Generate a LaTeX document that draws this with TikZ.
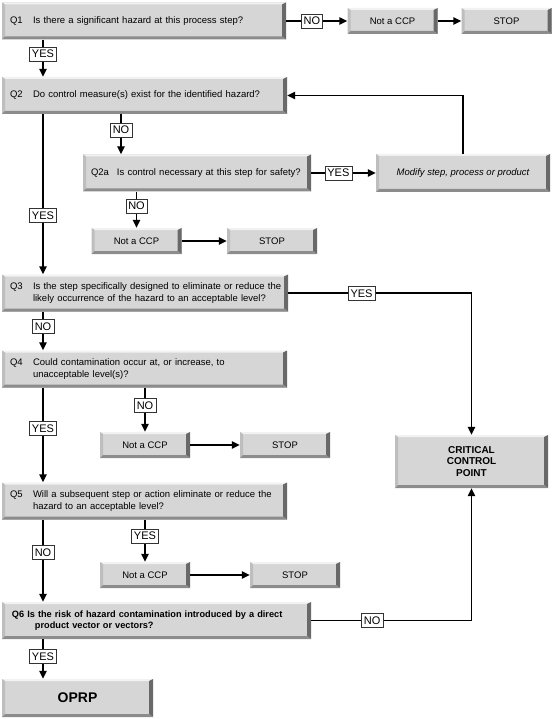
\documentclass[tikz,border=0pt]{standalone}
\usepackage{fontspec}
\setmainfont{Liberation Sans}
\usetikzlibrary{arrows.meta}
\definecolor{boxgray}{RGB}{214,214,214}
\definecolor{bevlight}{RGB}{242,242,242}
\definecolor{bevleft}{RGB}{190,190,190}
\definecolor{bevright}{RGB}{105,105,105}
\definecolor{bevbottom}{RGB}{140,140,140}
\newcommand{\qnum}[2][23pt]{\hspace*{6pt}\makebox[#1][l]{#2}}
\newcommand{\qindent}{\hspace*{29pt}}
\begin{document}
\begin{tikzpicture}[
		x=1pt, y=1pt,
		font=\fontsize{9.5}{11.4}\selectfont,
		base/.style={fill=boxgray, inner sep=0pt, minimum width=90pt, minimum height=26pt,
			path picture={
				\coordinate (bnw) at (path picture bounding box.north west);
				\coordinate (bne) at (path picture bounding box.north east);
				\coordinate (bsw) at (path picture bounding box.south west);
				\coordinate (bse) at (path picture bounding box.south east);
				\fill[bevlight] (bnw) -- (bne) -- ([shift={(-4pt,-2pt)}]bne) -- ([shift={(3pt,-2pt)}]bnw) -- cycle;
				\fill[bevleft] (bnw) -- ([shift={(3pt,-2pt)}]bnw) -- ([shift={(3pt,3pt)}]bsw) -- (bsw) -- cycle;
				\fill[bevright] (bne) -- (bse) -- ([shift={(-4pt,3pt)}]bse) -- ([shift={(-4pt,-2pt)}]bne) -- cycle;
				\fill[bevbottom] (bsw) -- (bse) -- ([shift={(-4pt,3pt)}]bse) -- ([shift={(3pt,3pt)}]bsw) -- cycle;
			}},
		qbox/.style={base, minimum height=37pt, inner xsep=2pt, align=left, text width=#1},
		lbl/.style={draw=black!80, fill=white, line width=0.4pt, font=\fontsize{11}{13}\selectfont,
			inner xsep=2.5pt, inner ysep=3pt, text height=8pt, text depth=0pt},
		link/.style={draw, line width=1.4pt, -{Triangle[length=8pt, width=7.5pt]}}
	]

	\useasboundingbox (0pt, 0pt) rectangle (553pt, -719pt);

	\coordinate (colA) at (43pt, 0pt);
	\coordinate (colB) at (121pt, 0pt);

	\node[qbox=280pt] at (144pt, -21pt) (q1) {\qnum{Q1}Is there a significant hazard at  this process step?};
	\node[qbox=281pt] at (144.5pt, -95.5pt) (q2) {\qnum{Q2}Do control measure(s) exist for the identified hazard?};
	\node[qbox=224pt] at (197pt, -173pt) (q2a) {\qnum[26pt]{Q2a}Is control necessary at  this step for safety?};
	\node[base, minimum width=174pt, minimum height=38pt] at (463pt, -173pt) (modify) {\itshape Modify step, process or product};
	\node[qbox=282pt] at (145pt, -293pt) (q3) {\qnum{Q3}Is the step specifically designed to eliminate or reduce the\\\qindent likely occurrence of the hazard to an acceptable level?};
	\node[qbox=281pt] at (144.5pt, -369pt) (q4) {\qnum{Q4}Could contamination  occur  at, or increase, to\\\qindent unacceptable level(s)?};
	\node[qbox=281pt] at (144.5pt, -501pt) (q5) {\qnum{Q5}Will a subsequent step or action eliminate or reduce the\\\qindent hazard to an acceptable level?};
	\node[qbox=305pt, font=\bfseries\fontsize{9.2}{11.2}\selectfont] at (156.5pt, -620.5pt) (q6) {\hspace*{8pt}Q6\hspace{3pt}Is the risk of hazard contamination introduced by a direct\\\hspace*{31pt}product vector or vectors?};
	\node[base, minimum width=153pt, minimum height=53pt, align=center, font=\bfseries\fontsize{10}{11.5}\selectfont] at (471.5pt, -461.5pt) (ccp) {CRITICAL\\CONTROL\\POINT};
	\node[base, minimum width=151pt, minimum height=38pt, font=\bfseries\fontsize{14}{16}\selectfont] at (77.5pt, -698pt) (oprp) {OPRP};

	\foreach \n/\x/\y/\s in {1/392.5/21/506.5, 2/136.5/241/272, 3/145/445/285, 4/145/575/295}{
		\node[base] at (\x pt, -\y pt) (nccp\n) {Not a CCP};
		\node[base] at (\s pt, -\y pt) (stop\n) {STOP};
		\draw[link] (nccp\n) -- (stop\n);
	}

	\draw[link] (q1) -- node[lbl, pos=0.42] {NO} (nccp1);
	\draw[link] (q1.south -| colA) -- node[lbl, pos=0.38] {YES} (q2.north -| colA);
	\draw[link] (q2.south -| colA) -- node[lbl, pos=0.63] {YES} (q3.north -| colA);
	\draw[link] (q2.south -| colB) -- node[lbl, pos=0.39] {NO} (q2a.north -| colB);
	\draw[link] (q2a) -- node[lbl, pos=0.42] {YES} (modify);
	\draw[link] (modify.north) |- (q2.east);
	\draw[link] (q2a.south -| nccp2) -- node[lbl, pos=0.39] {NO} (nccp2);
	\draw[link] (q3.east) -| node[lbl, pos=0.2] {YES} (ccp.north);
	\draw[link] (q3.south -| colA) -- node[lbl, pos=0.38] {NO} (q4.north -| colA);
	\draw[link] (q4.south -| colA) -- node[lbl, pos=0.43] {YES} (q5.north -| colA);
	\draw[link] (q4.south -| nccp3) -- node[lbl, pos=0.4] {NO} (nccp3);
	\draw[link] (q5.south -| colA) -- node[lbl, pos=0.4] {NO} (q6.north -| colA);
	\draw[link] (q5.south -| nccp4) -- node[lbl, pos=0.38] {YES} (nccp4);
	\draw[link] (q6.east) -| node[lbl, pos=0.19] {NO} (ccp.south);
	\draw[link] (q6.south -| colA) -- node[lbl, pos=0.44] {YES} (oprp.north -| colA);

\end{tikzpicture}
\end{document}
